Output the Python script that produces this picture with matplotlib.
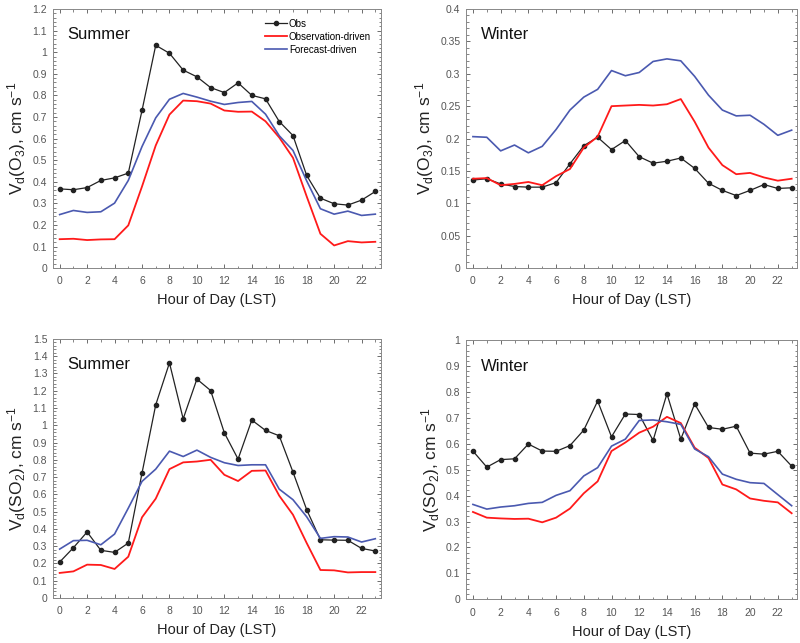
import matplotlib
matplotlib.use('Agg')
from matplotlib import pyplot as plt
from matplotlib.ticker import MultipleLocator, AutoMinorLocator

plt.rcParams['font.family'] = ['Liberation Sans', 'DejaVu Sans']
plt.rcParams['mathtext.default'] = 'regular'

hours = list(range(24))

# O3 summer
o3_sum_obs = [0.367, 0.363, 0.373, 0.406, 0.418, 0.44, 0.73, 1.032, 0.995, 0.917, 0.886, 0.836,
              0.813, 0.858, 0.80, 0.784, 0.679, 0.614, 0.429, 0.324, 0.298, 0.292, 0.315, 0.355]
o3_sum_obsdrv = [0.134, 0.136, 0.13, 0.133, 0.134, 0.198, 0.378, 0.568, 0.711, 0.776, 0.773, 0.762,
                 0.73, 0.724, 0.725, 0.68, 0.605, 0.511, 0.332, 0.159, 0.105, 0.125, 0.119, 0.122]
o3_sum_fcst = [0.248, 0.267, 0.258, 0.261, 0.301, 0.406, 0.563, 0.696, 0.782, 0.809, 0.792, 0.773,
               0.758, 0.767, 0.772, 0.713, 0.613, 0.545, 0.404, 0.275, 0.25, 0.264, 0.244, 0.25]

# O3 winter
o3_win_obs = [0.136, 0.138, 0.13, 0.126, 0.125, 0.125, 0.132, 0.161, 0.189, 0.202, 0.183, 0.197,
              0.172, 0.162, 0.165, 0.17, 0.154, 0.131, 0.12, 0.112, 0.12, 0.129, 0.123, 0.124]
o3_win_obsdrv = [0.138, 0.139, 0.128, 0.13, 0.133, 0.128, 0.142, 0.153, 0.186, 0.203, 0.25, 0.251,
                 0.252, 0.251, 0.253, 0.261, 0.226, 0.186, 0.159, 0.145, 0.147, 0.14, 0.135, 0.138]
o3_win_fcst = [0.203, 0.202, 0.181, 0.19, 0.178, 0.188, 0.214, 0.244, 0.264, 0.276, 0.305, 0.297,
               0.302, 0.319, 0.323, 0.32, 0.296, 0.267, 0.244, 0.235, 0.236, 0.222, 0.205, 0.213]

# SO2 summer
so2_sum_obs = [0.208, 0.291, 0.382, 0.276, 0.264, 0.318, 0.723, 1.118, 1.361, 1.037, 1.267, 1.201,
               0.956, 0.804, 1.03, 0.97, 0.939, 0.729, 0.511, 0.337, 0.335, 0.334, 0.287, 0.272]
so2_sum_obsdrv = [0.145, 0.154, 0.193, 0.191, 0.168, 0.239, 0.467, 0.575, 0.746, 0.785, 0.79, 0.80,
                  0.713, 0.677, 0.736, 0.738, 0.592, 0.482, 0.318, 0.162, 0.16, 0.148, 0.15, 0.15]
so2_sum_fcst = [0.283, 0.332, 0.334, 0.308, 0.37, 0.52, 0.675, 0.746, 0.85, 0.819, 0.856, 0.814,
                0.783, 0.767, 0.771, 0.771, 0.63, 0.569, 0.47, 0.345, 0.355, 0.353, 0.324, 0.343]

# SO2 winter
so2_win_obs = [0.572, 0.51, 0.539, 0.542, 0.599, 0.572, 0.571, 0.593, 0.653, 0.765, 0.627, 0.715,
               0.713, 0.613, 0.793, 0.618, 0.754, 0.663, 0.656, 0.668, 0.564, 0.56, 0.571, 0.514]
so2_win_obsdrv = [0.337, 0.315, 0.312, 0.31, 0.311, 0.297, 0.315, 0.35, 0.409, 0.455, 0.572, 0.605,
                  0.643, 0.666, 0.704, 0.68, 0.585, 0.545, 0.443, 0.424, 0.389, 0.38, 0.374, 0.332]
so2_win_fcst = [0.366, 0.348, 0.356, 0.361, 0.37, 0.374, 0.401, 0.419, 0.476, 0.508, 0.591, 0.618,
                0.69, 0.692, 0.685, 0.675, 0.58, 0.55, 0.483, 0.463, 0.45, 0.447, 0.404, 0.361]

panels = [
    ([0.066, 0.583, 0.41, 0.403], 'Summer', r'V$_d$(O$_3$), cm s$^{-1}$', 1.2, 0.1,
     o3_sum_obs, o3_sum_obsdrv, o3_sum_fcst),
    ([0.5825, 0.583, 0.414, 0.403], 'Winter', r'V$_d$(O$_3$), cm s$^{-1}$', 0.4, 0.05,
     o3_win_obs, o3_win_obsdrv, o3_win_fcst),
    ([0.066, 0.070, 0.41, 0.403], 'Summer', r'V$_d$(SO$_2$), cm s$^{-1}$', 1.5, 0.1,
     so2_sum_obs, so2_sum_obsdrv, so2_sum_fcst),
    ([0.5825, 0.068, 0.414, 0.403], 'Winter', r'V$_d$(SO$_2$), cm s$^{-1}$', 1.0, 0.1,
     so2_win_obs, so2_win_obsdrv, so2_win_fcst),
]

red = '#ff1a1a'
blue = '#4a59b0'
gray = '#555555'

fig = plt.figure(figsize=(8, 6.43), dpi=100)
for i, (pos, season, ylab, ymax, ystep, obs, obsdrv, fcst) in enumerate(panels):
    ax = fig.add_axes(pos)
    ax.plot(hours, obs, '-', color='#222222', lw=0.9, marker='o', ms=3.0, label='Obs')
    ax.plot(hours, obsdrv, '-', color=red, lw=1.3, label='Observation-driven')
    ax.plot(hours, fcst, '-', color=blue, lw=1.2, label='Forecast-driven')
    ax.set_xlim(-0.5, 23.4)
    ax.set_ylim(0, ymax)
    ax.xaxis.set_major_locator(MultipleLocator(2))
    ax.xaxis.set_minor_locator(MultipleLocator(1))
    ax.yaxis.set_major_locator(MultipleLocator(ystep))
    ax.yaxis.set_minor_locator(AutoMinorLocator(5))
    ax.set_yticklabels(['%g' % v for v in ax.get_yticks()])
    ax.tick_params(which='both', direction='in', top=True, right=True, colors=gray,
                   labelsize=7.5, labelcolor=gray)
    ax.tick_params(which='major', length=3, width=0.6)
    ax.tick_params(axis='x', which='major', pad=6)
    ax.tick_params(axis='y', which='major', pad=4)
    ax.tick_params(which='minor', length=1.8, width=0.5)
    for s in ax.spines.values():
        s.set_color('#888888')
        s.set_linewidth(0.7)
    ax.set_xlabel('Hour of Day (LST)', fontsize=10.5, color='#222222', labelpad=5)
    ax.set_ylabel(ylab, fontsize=12.5, color='#222222', labelpad=3)
    ax.text(0.045, 0.90, season, transform=ax.transAxes, fontsize=12, color='#111111',
            va='center', ha='left')
    if i == 0:
        ax.legend(loc='upper right', frameon=False, fontsize=7, handlelength=2.3,
                  handletextpad=0.15, labelspacing=0.3, borderaxespad=0.6)

fig.savefig('out.png', dpi=100)
